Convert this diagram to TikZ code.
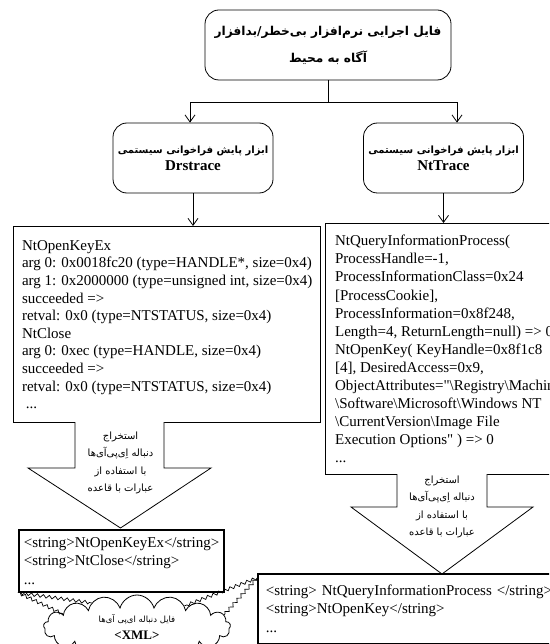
\documentclass[tikz,border=0pt]{standalone}
\usepackage{fontspec}
\setmainfont{Liberation Serif}
\newfontfamily\codefont{Liberation Serif}
\newfontfamily\farsi[Script=Arabic]{DejaVu Sans}
\TeXXeTstate=1
\usepackage{tikz}
\usetikzlibrary{shapes,shapes.symbols,arrows.meta,decorations.pathmorphing,positioning}
\newcommand\tracefont{\codefont\fontsize{15}{17.6}\selectfont}
\tikzset{
  stagebox/.style={draw, rounded corners=14pt, align=center, line width=0.8pt, inner sep=2pt},
  tracebox/.style={draw, line width=1.4pt, anchor=north west, align=left, font=\tracefont, fill=white},
  listbox/.style={tracebox, line width=1.6pt, inner xsep=5pt, font=\codefont\fontsize{15}{18.5}\selectfont},
  bigarrow/.style={draw, fill=white, line width=0.8pt},
  arrowtext/.style={align=center, font=\farsi\fontsize{10}{17.3}\selectfont},
  flow/.style={-{Straight Barb[length=7pt,width=10pt]}, line width=0.8pt},
  jagged/.style={decorate, decoration={zigzag, segment length=6pt, amplitude=1.6pt}, line width=0.7pt}
}

\begin{document}
\begin{tikzpicture}[x=1pt,y=-1pt]
\useasboundingbox (0,0) rectangle (549,644);
\clip (0,0) rectangle (549,644);

% input program
\node[stagebox, minimum width=246, minimum height=70, font=\farsi\bfseries\fontsize{12.2}{27}\selectfont] (exe) at (328,45)
  {\beginR فایل اجرایی نرم^^^^200cافزار بی^^^^200cخطر/بدافزار\endR\\\beginR آگاه به محیط\endR};

% the two tracers
\node[stagebox, minimum width=160, minimum height=70] (drs) at (193,158)
  {{\farsi\bfseries\fontsize{10}{16}\selectfont\beginR ابزار پایش فراخوانی سیستمی\endR}\\[4pt]\fontsize{15}{17}\selectfont\textbf{Drstrace}};
\node[stagebox, minimum width=160, minimum height=70] (ntt) at (443.5,158)
  {{\farsi\bfseries\fontsize{10}{16}\selectfont\beginR ابزار پایش فراخوانی سیستمی\endR}\\[4pt]\fontsize{15}{17}\selectfont\textbf{NtTrace}};

\coordinate (fork) at (328,102);
\draw[line width=0.8pt] (exe.south) -- (fork);
\draw[flow] (fork) -| ([xshift=-3pt]drs.north);
\draw[flow] (fork) -| ([xshift=13.5pt]ntt.north);

% raw traces
\node[tracebox, minimum width=307, minimum height=196] (drsout) at (13,226)
  {NtOpenKeyEx\\
   arg 0: 0x0018fc20 (type=HANDLE*, size=0x4)\\
   arg 1: 0x2000000 (type=unsigned int, size=0x4)\\
   succeeded =>\\
   retval: 0x0 (type=NTSTATUS, size=0x4)\\
   NtClose\\
   arg 0: 0xec (type=HANDLE, size=0x4)\\
   succeeded =>\\
   retval: 0x0 (type=NTSTATUS, size=0x4)\\
   \ ...};
\node[tracebox, minimum width=245, minimum height=251, inner xsep=4pt, font=\codefont\fontsize{15}{18.1}\selectfont] (nttout) at (325,223)
  {NtQueryInformationProcess(\\
   ProcessHandle=-1,\\
   ProcessInformationClass=0x24\\
   {[ProcessCookie]},\\
   ProcessInformation=0x8f248,\\
   Length=4, ReturnLength=null) => 0\\
   NtOpenKey( KeyHandle=0x8f1c8\\
   {[4]}, DesiredAccess=0x9,\\
   ObjectAttributes="\textbackslash Registry\textbackslash Machine\\
   \textbackslash Software\textbackslash Microsoft\textbackslash Windows NT\\
   \textbackslash CurrentVersion\textbackslash Image File\\
   Execution Options" ) => 0\\
   ...};

\draw[flow] (drs.south) -- (drs.south |- drsout.north);
\draw[flow] (ntt.south) -- (ntt.south |- nttout.north);

% extraction with regular expressions
\draw[bigarrow] (75,422) -- (75,468) -- (28,468) -- (120.5,528) -- (211,468) -- (164,468) -- (164,422);
\node[arrowtext] (drsrule) at (120.5,463)
  {\beginR استخراج\endR\\\beginR دنباله اِی^^^^200cپی^^^^200cآی^^^^200cها\endR\\\beginR با استفاده از\endR\\\beginR عبارات با قاعده\endR};
\draw[bigarrow] (397,474) -- (397,507) -- (351,507) -- (442,574) -- (533,507) -- (487,507) -- (487,474);
\node[arrowtext] (nttrule) at (442,507)
  {\beginR استخراج\endR\\\beginR دنباله اِی^^^^200cپی^^^^200cآی^^^^200cها\endR\\\beginR با استفاده از\endR\\\beginR عبارات با قاعده\endR};

% api sequences
\node[listbox, minimum width=205, minimum height=62, text width=195] (drsxml) at (18,529)
  {<string>NtOpenKeyEx</string>\\
   <string>NtClose</string>\\
   ...};
\node[listbox, minimum height=70, inner xsep=8pt, text width=320] (nttxml) at (257,573)
  {<string> NtQueryInformationProcess </string>\\
   <string>NtOpenKey</string>\\
   ...};

% output file
\node[cloud, draw, fill=white, cloud puffs=17, aspect=3.6, minimum width=187, minimum height=64, inner sep=0pt, line width=0.8pt, align=center] (apifile) at (137,627)
  {{\farsi\fontsize{8.5}{14}\selectfont\beginR فایل دنباله ای^^^^200cپی آی^^^^200cها\endR}\\[5pt]\codefont\fontsize{13}{16}\selectfont\textbf{<XML>}};
\draw[jagged] (drsxml.south west) -- (apifile.152);
\draw[jagged] (drsxml.south west) -- (apifile.170);
\draw[jagged] ([yshift=-5pt]nttxml.north west) -- (apifile.24);
\draw[jagged] ([yshift=-5pt]nttxml.north west) -- (apifile.8);
\end{tikzpicture}
\end{document}
